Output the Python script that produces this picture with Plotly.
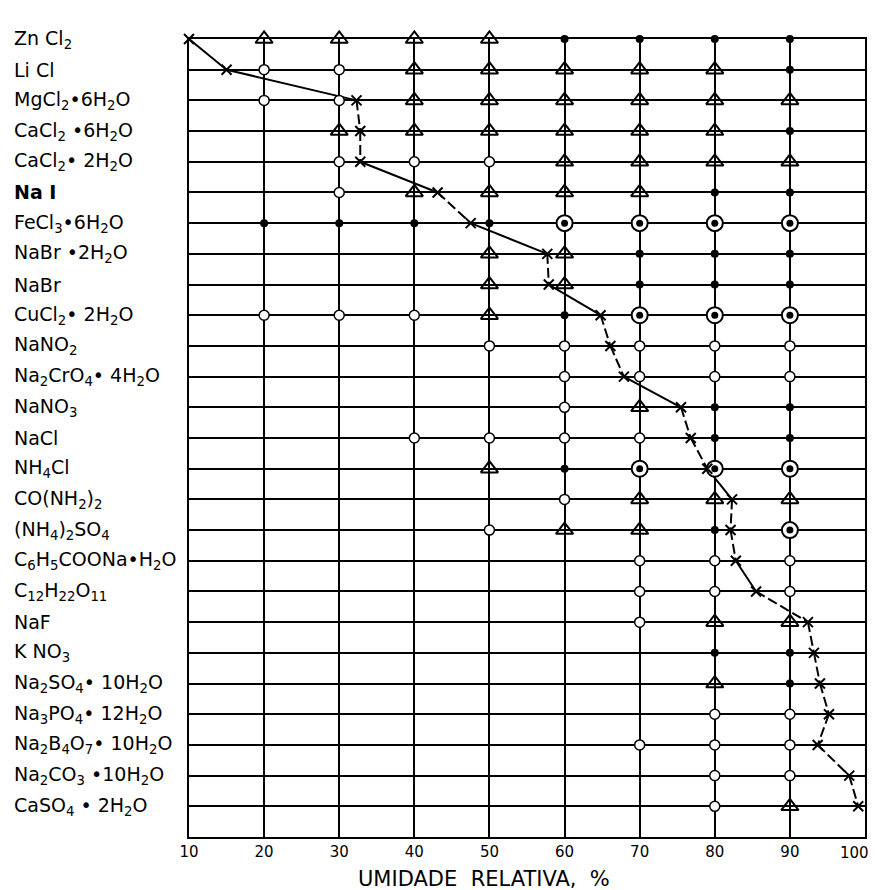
import plotly.graph_objects as go

# ---------------- data ----------------
compounds = [
    "Zn Cl<sub>2</sub>",
    "Li Cl",
    "MgCl<sub>2</sub>•6H<sub>2</sub>O",
    "CaCl<sub>2</sub> •6H<sub>2</sub>O",
    "CaCl<sub>2</sub>• 2H<sub>2</sub>O",
    "<b>Na I</b>",
    "FeCl<sub>3</sub>•6H<sub>2</sub>O",
    "NaBr •2H<sub>2</sub>O",
    "NaBr",
    "CuCl<sub>2</sub>• 2H<sub>2</sub>O",
    "NaNO<sub>2</sub>",
    "Na<sub>2</sub>CrO<sub>4</sub>• 4H<sub>2</sub>O",
    "NaNO<sub>3</sub>",
    "NaCl",
    "NH<sub>4</sub>Cl",
    "CO(NH<sub>2</sub>)<sub>2</sub>",
    "(NH<sub>4</sub>)<sub>2</sub>SO<sub>4</sub>",
    "C<sub>6</sub>H<sub>5</sub>COONa•H<sub>2</sub>O",
    "C<sub>12</sub>H<sub>22</sub>O<sub>11</sub>",
    "NaF",
    "K NO<sub>3</sub>",
    "Na<sub>2</sub>SO<sub>4</sub>• 10H<sub>2</sub>O",
    "Na<sub>3</sub>PO<sub>4</sub>• 12H<sub>2</sub>O",
    "Na<sub>2</sub>B<sub>4</sub>O<sub>7</sub>• 10H<sub>2</sub>O",
    "Na<sub>2</sub>CO<sub>3</sub> •10H<sub>2</sub>O",
    "CaSO<sub>4</sub> • 2H<sub>2</sub>O",
]

# critical relative humidity (x marks) for each compound, %
critical_rh = [10, 15, 32.3, 32.8, 32.8, 43.1, 47.5, 57.7, 57.9, 64.8,
               66.1, 67.9, 75.5, 76.8, 79.0, 82.3, 82.1, 82.8, 85.5, 92.4,
               93.2, 94.0, 95.2, 93.7, 97.9, 99.1]

# observation columns (% RH)
rh_columns = [20, 30, 40, 50, 60, 70, 80, 90]

# symbol codes per compound at each column:
# t = triangle, o = open circle, d = filled dot, b = circle with dot, - = none
observations = [
    "t t t t d d d d",
    "o o t t t t t d",
    "o o t t t t t t",
    "- t t t t t t d",
    "- o o o t t t t",
    "- o t t t t d d",
    "d d d d b b b b",
    "- - - t t d d d",
    "- - - t t d d d",
    "o o o t d b b b",
    "- - - o o o o o",
    "- - - - o o o o",
    "- - - - o t d d",
    "- - o o o o d d",
    "- - - t d b b b",
    "- - - - o t t t",
    "- - - o t t d b",
    "- - - - - o o o",
    "- - - - - o o o",
    "- - - - - o t t",
    "- - - - - - d d",
    "- - - - - - t d",
    "- - - - - - o o",
    "- - - - - o o o",
    "- - - - - - o o",
    "- - - - - - o t",
]

# whether each curve segment (between consecutive compounds) is solid
segment_solid = [True, True, False, False, True, False, True, False, True, False,
                 False, True, False, False, True, False, False, True, False, False,
                 False, False, False, False, False]

x_ticks = [10, 20, 30, 40, 50, 60, 70, 80, 90]
x_last_tick = 100
x_title = "UMIDADE\u00a0\u00a0RELATIVA,\u00a0\u00a0%"

# ---------------- figure ----------------
rows = list(range(len(compounds)))
FONT = "DejaVu Sans"

def collect(code):
    xs, ys = [], []
    for i, s in enumerate(observations):
        toks = s.split()
        for j, ch in enumerate(toks):
            if ch == code:
                xs.append(rh_columns[j])
                ys.append(rows[i])
    return xs, ys

fig = go.Figure()

# critical curve segments
for solid in (True, False):
    xs, ys = [], []
    for k, flag in enumerate(segment_solid):
        if flag == solid:
            xs += [critical_rh[k], critical_rh[k + 1], None]
            ys += [rows[k], rows[k + 1], None]
    fig.add_trace(go.Scatter(
        x=xs, y=ys, mode="lines", hoverinfo="skip", showlegend=False, cliponaxis=False,
        line=dict(color="black", width=2, dash="solid" if solid else "10px,4px"),
    ))

# triangles
xs, ys = collect("t")
fig.add_trace(go.Scatter(x=xs, y=ys, mode="markers", showlegend=False, cliponaxis=False,
                         marker=dict(symbol="triangle-up", size=15, color="rgba(255,255,255,0)",
                                     line=dict(color="black", width=2))))
# open circles
xs, ys = collect("o")
fig.add_trace(go.Scatter(x=xs, y=ys, mode="markers", showlegend=False, cliponaxis=False,
                         marker=dict(symbol="circle", size=10, color="white",
                                     line=dict(color="black", width=1.5))))
# filled dots
xs, ys = collect("d")
fig.add_trace(go.Scatter(x=xs, y=ys, mode="markers", showlegend=False, cliponaxis=False,
                         marker=dict(symbol="circle", size=8, color="black",
                                     line=dict(color="black", width=0))))
# bullseye
xs, ys = collect("b")
fig.add_trace(go.Scatter(x=xs, y=ys, mode="markers", showlegend=False, cliponaxis=False,
                         marker=dict(symbol="circle", size=16, color="white",
                                     line=dict(color="black", width=2))))
fig.add_trace(go.Scatter(x=xs, y=ys, mode="markers", showlegend=False, cliponaxis=False,
                         marker=dict(symbol="circle", size=7, color="black")))

# x marks of critical humidity
fig.add_trace(go.Scatter(x=critical_rh, y=rows, mode="markers", showlegend=False,
                         cliponaxis=False,
                         marker=dict(symbol="x-thin-open", size=10, color="black",
                                     line=dict(color="black", width=2))))

# compound labels (left aligned)
for i, name in enumerate(compounds):
    fig.add_annotation(x=-0.262, xref="paper", y=rows[i], yref="y",
                       text=name, showarrow=False, xanchor="left", yanchor="middle",
                       font=dict(family=FONT, size=19, color="black"))

# last x tick label, nudged inside the page like the reference
fig.add_annotation(x=x_last_tick, xref="x", y=0, yref="paper", xshift=-11, yshift=-5,
                   text=str(x_last_tick), showarrow=False, xanchor="center", yanchor="top",
                   font=dict(family=FONT, size=15, color="black"))

fig.add_annotation(x=0.437, xref="paper", y=-0.053, yref="paper",
                   text=x_title, showarrow=False, xanchor="center", yanchor="middle",
                   font=dict(family=FONT, size=21, color="black"))

fig.update_layout(
    width=877, height=890,
    margin=dict(l=189, r=12, t=39, b=53, autoexpand=False),
    paper_bgcolor="white", plot_bgcolor="white",
    font=dict(family=FONT, color="black"),
    xaxis=dict(range=[10, 100], tickvals=x_ticks,
               showgrid=True, gridcolor="black", automargin=False,
               gridwidth=2, showline=True, mirror=True, linecolor="black", linewidth=2,
               zeroline=False, ticks="", tickfont=dict(size=15, family=FONT)),
    yaxis=dict(range=[26, 0], tickvals=rows, showgrid=True, gridcolor="black",
               gridwidth=2, showline=True, mirror=True, linecolor="black", linewidth=2,
               zeroline=False, ticks="", showticklabels=False, automargin=False),
)

fig.write_html("out.html")
